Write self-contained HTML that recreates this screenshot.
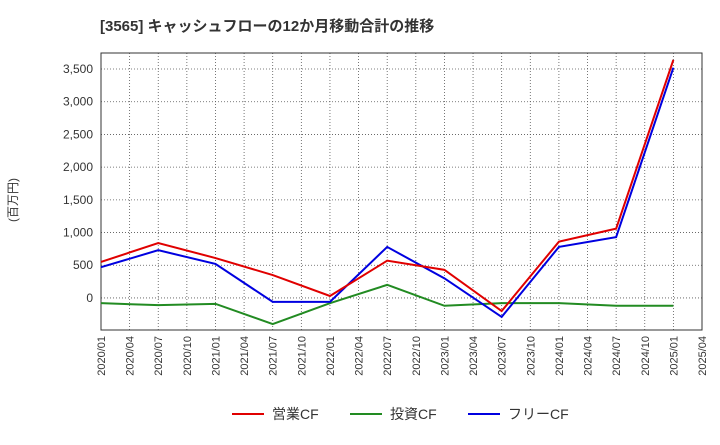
<!DOCTYPE html>
<html><head><meta charset="utf-8"><style>
body{margin:0;background:#fff;font-family:"Liberation Sans","Noto Sans CJK JP",sans-serif;}
</style></head><body>
<svg id="c" width="720" height="440" xmlns="http://www.w3.org/2000/svg">
<text x="100" y="31" font-size="15" font-weight="bold" fill="#333">[3565]  キャッシュフローの12か月移動合計の推移</text>
<text transform="translate(17,200) rotate(-90)" font-size="12" fill="#333" text-anchor="middle">(百万円)</text>
<g id="grid"></g><g id="axes"></g><g id="series"></g>
<g>
<line x1="232" y1="414" x2="264" y2="414" stroke="#e00000" stroke-width="2"/>
<text x="272" y="419" font-size="14" fill="#333">営業CF</text>
<line x1="350" y1="414" x2="382" y2="414" stroke="#228b22" stroke-width="2"/>
<text x="390" y="419" font-size="14" fill="#333">投資CF</text>
<line x1="468" y1="414" x2="500" y2="414" stroke="#0000e0" stroke-width="2"/>
<text x="508" y="419" font-size="14" fill="#333">フリーCF</text>
</g>
</svg>
<script>
const xLabels=["2020/01","2020/04","2020/07","2020/10","2021/01","2021/04","2021/07","2021/10","2022/01","2022/04","2022/07","2022/10","2023/01","2023/04","2023/07","2023/10","2024/01","2024/04","2024/07","2024/10","2025/01","2025/04"];
const yTicks=[0,500,1000,1500,2000,2500,3000,3500];
const yTickLabels=["0","500","1,000","1,500","2,000","2,500","3,000","3,500"];
const pointIdx=[0,2,4,6,8,10,12,14,16,18,20];
const operatingCF=[550,840,610,350,30,570,430,-200,860,1060,3640];
const investingCF=[-80,-110,-90,-400,-80,200,-120,-80,-80,-120,-120];
const freeCF=[470,730,520,-60,-60,780,300,-290,780,930,3520];
const L=101,R=702,T=53,B=330,yMin=-490,yMax=3745;
const NS="http://www.w3.org/2000/svg";
const xs=i=>L+i*(R-L)/(xLabels.length-1);
const ys=v=>B-(v-yMin)/(yMax-yMin)*(B-T);
function mk(tag,attrs,parent){const e=document.createElementNS(NS,tag);for(const k in attrs)e.setAttribute(k,attrs[k]);parent.appendChild(e);return e;}
const g=document.getElementById('grid'),ax=document.getElementById('axes'),s=document.getElementById('series');
xLabels.forEach((lab,i)=>{
 const ln=mk('line',{x1:xs(i),x2:xs(i),y1:T,y2:B,stroke:'#555','stroke-width':0.8,'stroke-dasharray':'1,2'},g);
 
 
 const t=mk('text',{transform:`translate(${xs(i)+4},${B+6}) rotate(-90)`,'font-size':11,fill:'#333','text-anchor':'end'},ax);
 t.textContent=lab;
 
 
});
yTicks.forEach((v,i)=>{
 const ln=mk('line',{x1:L,x2:R,y1:ys(v),y2:ys(v),stroke:'#555','stroke-width':0.8,'stroke-dasharray':'1,2'},g);
 
 
 const t=mk('text',{x:L-8,y:ys(v)+4,'font-size':12,fill:'#333','text-anchor':'end'},ax);
 t.textContent=yTickLabels[i];
 
 
});
const fr=mk('rect',{x:L,y:T,width:R-L,height:B-T,fill:'none',stroke:'#333','stroke-width':1},ax);


function line(data,color,name){
 const p=mk('polyline',{points:data.map((v,i)=>xs(pointIdx[i])+','+ys(v)).join(' '),fill:'none',stroke:color,'stroke-width':2},s);
 
 
}
line(investingCF,'#228b22','investing-cf-line');
line(freeCF,'#0000e0','free-cf-line');
line(operatingCF,'#e00000','operating-cf-line');
</script>
</body></html>
